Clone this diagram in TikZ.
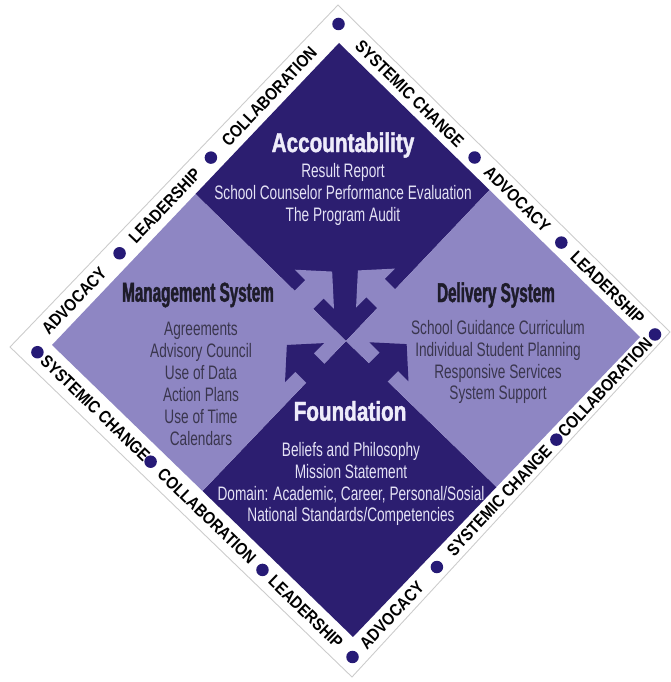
\documentclass[tikz,border=0pt]{standalone}
\usepackage{fontspec}
\setmainfont{Liberation Sans}
\newfontfamily\bandfont[FakeStretch=0.86]{Liberation Sans}
\newfontfamily\headfont[FakeStretch=0.76, FakeBold=1.5]{Liberation Sans}
\newfontfamily\sidefont[FakeStretch=0.56, FakeBold=1.5]{Liberation Sans}
\newfontfamily\listfont[FakeStretch=0.7]{Liberation Sans}
\usepackage{tikz}
\usetikzlibrary{positioning, calc}
\definecolor{navy}{RGB}{44,30,112}
\definecolor{lilac}{RGB}{142,134,195}
\definecolor{dotblue}{RGB}{38,26,118}
\definecolor{ink}{RGB}{30,28,42}
\definecolor{greyink}{RGB}{58,54,78}
\definecolor{paleink}{RGB}{238,236,250}

\begin{document}
\begin{tikzpicture}
    [x=0.2mm, y=0.2mm,
      bandtext/.style={font=\bandfont\fontsize{9.8}{11}\selectfont\bfseries, text=black, inner sep=0pt, sloped},
      bluedot/.style={circle, fill=dotblue, minimum size=2.5mm, inner sep=0pt},
      headtext/.style={font=\headfont\fontsize{15.5}{17}\selectfont\bfseries, text=paleink, inner sep=0pt},
      sidetext/.style={font=\sidefont\fontsize{15.5}{17}\selectfont\bfseries, text=ink, inner sep=0pt},
      listtext/.style={font=\listfont\fontsize{11.1}{12.5}\selectfont, align=center, inner sep=0pt}]

    \useasboundingbox (0,0) rectangle (671,682);

    % outer band and inner diamond
    \coordinate (oT) at (338,677);
    \coordinate (oR) at (670,350);
    \coordinate (oB) at (352,5);
    \coordinate (oL) at (10,335);
    \coordinate (iT) at (339,639);
    \coordinate (iR) at (640,345);
    \coordinate (iB) at (353,45);
    \coordinate (iL) at (52,337);
    \coordinate (M) at ($(iL)!0.5!(iR)$);
    \coordinate (mTL) at ($(iT)!0.5!(iL)$);
    \coordinate (mTR) at ($(iT)!0.5!(iR)$);
    \coordinate (mBL) at ($(iB)!0.5!(iL)$);
    \coordinate (mBR) at ($(iB)!0.5!(iR)$);
    \coordinate (cT) at ($(oT)!0.5!(iT)$);
    \coordinate (cR) at ($(oR)!0.5!(iR)$);
    \coordinate (cB) at ($(oB)!0.5!(iB)$);
    \coordinate (cL) at ($(oL)!0.5!(iL)$);

    \filldraw[fill=white, draw=gray!40, line width=0.5pt] (oT) -- (oR) -- (oB) -- (oL) -- cycle;

    \fill[navy] (iT) -- (mTR) -- (M) -- (mTL) -- cycle;
    \fill[navy] (M) -- (mBR) -- (iB) -- (mBL) -- cycle;
    \fill[lilac] (mTL) -- (M) -- (mBL) -- (iL) -- cycle;
    \fill[lilac] (mTR) -- (iR) -- (mBR) -- (M) -- cycle;

    % arrows across the inner borders
    \coordinate (aTL) at ($(M)!0.28!(mTL)$);
    \coordinate (aTR) at ($(M)!0.28!(mTR)$);
    \coordinate (aBL) at ($(M)!0.215!(mBL)$);
    \coordinate (aBR) at ($(M)!0.215!(mBR)$);
    \foreach \p/\a/\c in {aTL/45/lilac, aTR/135/lilac, aBL/135/navy, aBR/45/navy}
      \fill[\c, shift={(\p)}, rotate=\a] (-12,-13) -- (15,-13) -- (15,-27.6) -- (40,0)
        -- (15,27.6) -- (15,13) -- (-12,13) -- cycle;

    % words in the band
    \path (cL) -- (cT)
      node[bandtext, pos=0.14] (tlA) {ADVOCACY}
      node[bluedot, pos=0.288] (tlD1) {}
      node[bandtext, pos=0.435] (tlL) {LEADERSHIP}
      node[bluedot, pos=0.585] (tlD2) {}
      node[bandtext, pos=0.775] (tlC) {COLLABORATION};
    \path (cT) -- (cR)
      node[bandtext, pos=0.225] (trS) {SYSTEMIC CHANGE}
      node[bluedot, pos=0.43] (trD1) {}
      node[bandtext, pos=0.565] (trA) {ADVOCACY}
      node[bluedot, pos=0.704] (trD2) {}
      node[bandtext, pos=0.85] (trL) {LEADERSHIP};
    \path (cB) -- (cR)
      node[bandtext, pos=0.13] (brA) {ADVOCACY}
      node[bluedot, pos=0.279] (brD1) {}
      node[bandtext, pos=0.485] (brS) {SYSTEMIC CHANGE}
      node[bluedot, pos=0.674] (brD2) {}
      node[bandtext, pos=0.835] (brC) {COLLABORATION};
    \path (cL) -- (cB)
      node[bluedot, pos=0.02] (dL) {}
      node[bandtext, pos=0.2] (blS) {SYSTEMIC CHANGE}
      node[bluedot, pos=0.372] (blD1) {}
      node[bandtext, pos=0.547] (blC) {COLLABORATION}
      node[bluedot, pos=0.72] (blD2) {}
      node[bandtext, pos=0.855] (blL) {LEADERSHIP};
    \node[bluedot] (dT) at (cT) {};
    \node[bluedot] (dR) at (cR) {};
    \node[bluedot] (dB) at (cB) {};

    % the four parts
    \node[headtext] (acc) at (343,537) {Accountability};
    \node[listtext, text=paleink!90!lilac] (accl) at (343,488)
    {Result Report\\School Counselor Performance Evaluation\\The Program Audit};
    \node[sidetext] (man) at (198,387) {Management System};
    \node[listtext, text=greyink] (manl) at (201,298)
    {Agreements\\Advisory Council\\Use of Data\\Action Plans\\Use of Time\\Calendars};
    \node[sidetext] (del) at (496,387) {Delivery System};
    \node[listtext, text=greyink] (dell) at (498,320)
    {School Guidance Curriculum\\Individual Student Planning\\Responsive Services\\System Support};
    \node[headtext] (fnd) at (350,271) {Foundation};
    \node[listtext, text=paleink!90!lilac] (fndl) at (351,198)
    {Beliefs and Philosophy\\Mission Statement\\Domain: Academic, Career, Personal/Sosial\\National Standards/Competencies};
  \end{tikzpicture}
\end{document}
